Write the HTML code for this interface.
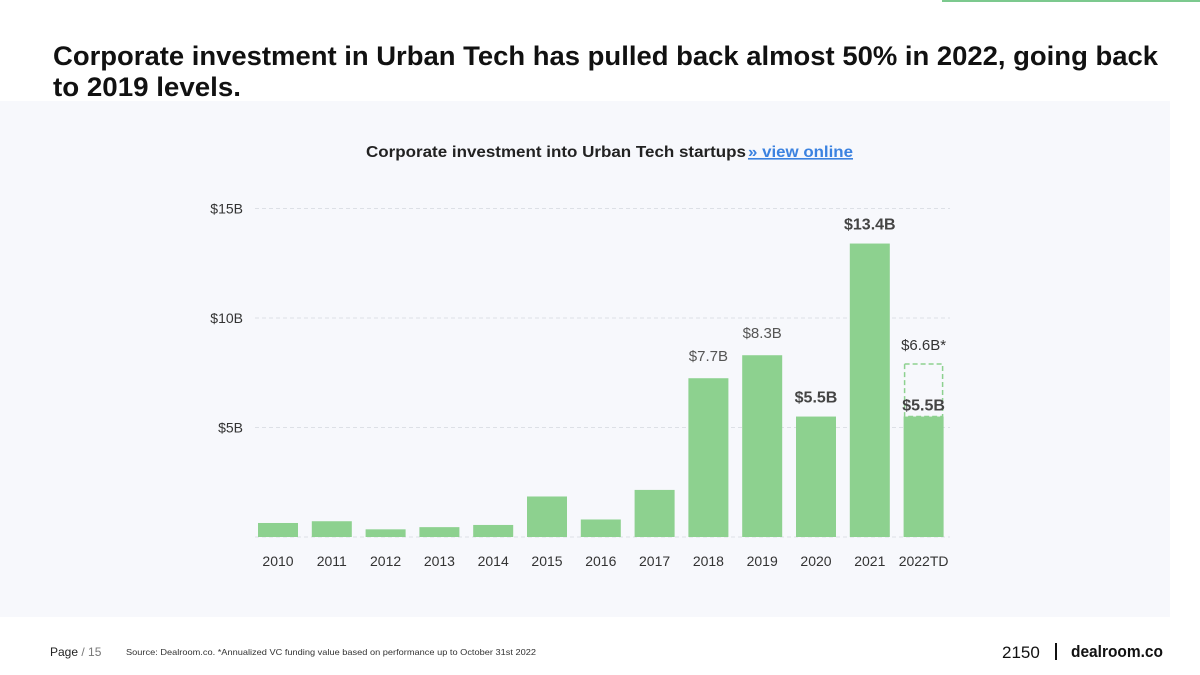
<!DOCTYPE html>
<html><head><meta charset="utf-8"><style>
html,body{margin:0;padding:0;background:#fff;width:1200px;height:675px;overflow:hidden;font-family:"Liberation Sans",sans-serif}
</style></head><body>
<svg id="chart" width="1200" height="675" viewBox="0 0 1200 675" xmlns="http://www.w3.org/2000/svg" font-family="Liberation Sans, sans-serif">
<rect x="942" y="0" width="258" height="2" fill="#7cc98e"/>
<rect x="0" y="101" width="1170" height="516" fill="#f7f8fc"/>
<text x="53" y="65" font-size="27" font-weight="bold" fill="#111" textLength="1105" lengthAdjust="spacingAndGlyphs">Corporate investment in Urban Tech has pulled back almost 50% in 2022, going back</text>
<text x="53" y="96" font-size="27" font-weight="bold" fill="#111" textLength="188" lengthAdjust="spacingAndGlyphs">to 2019 levels.</text>
<text x="366" y="157" font-size="16" font-weight="bold" fill="#222" textLength="380" lengthAdjust="spacingAndGlyphs">Corporate investment into Urban Tech startups</text>
<text x="748" y="157" font-size="16" font-weight="bold" fill="#3b82e0" text-decoration="underline" textLength="105" lengthAdjust="spacingAndGlyphs">» view online</text>
<g id="plot"></g>
<text x="50" y="656" font-size="12" fill="#222">Page <tspan fill="#777">/ 15</tspan></text>
<text x="126" y="655" font-size="8.5" fill="#333" textLength="410" lengthAdjust="spacingAndGlyphs">Source: Dealroom.co. *Annualized VC funding value based on performance up to October 31st 2022</text>
<text x="1002" y="658" font-size="17" fill="#111">2150</text>
<rect x="1055" y="643" width="2" height="17" fill="#111"/>
<text x="1071" y="657" font-size="17" font-weight="bold" fill="#111" textLength="92" lengthAdjust="spacingAndGlyphs">dealroom.co</text>
</svg>
<script>
const categories=["2010","2011","2012","2013","2014","2015","2016","2017","2018","2019","2020","2021","2022TD"];
const values=[0.64,0.72,0.35,0.45,0.55,1.85,0.8,2.15,7.25,8.3,5.5,13.4,5.5];
const annualized=[null,null,null,null,null,null,null,null,null,null,null,null,7.9];
const valueLabels=["","","","","","","","","$7.7B","$8.3B","$5.5B","$13.4B","$5.5B"];
const labelBold=[0,0,0,0,0,0,0,0,0,0,1,1,1];
const annualizedLabel="$6.6B*";
const yTicks=[5,10,15];
const yTickLabels=["$5B","$10B","$15B"];
const NS="http://www.w3.org/2000/svg";
const g=document.getElementById('plot');
const y0=537,pxPerB=21.9,x0=278,step=53.8,bw=40;
const Y=v=>y0-v*pxPerB, X=i=>x0+i*step;
function mk(t,a,txt){const e=document.createElementNS(NS,t);for(const k in a)e.setAttribute(k,a[k]);if(txt!=null)e.textContent=txt;g.appendChild(e);return e;}
yTicks.forEach((t,i)=>{
 const l=mk('line',{x1:255,x2:950,y1:Y(t),y2:Y(t),stroke:'#dde0e6','stroke-dasharray':'4,3'});
 
 
 const tx=mk('text',{x:243,y:Y(t)+5,'font-size':14,fill:'#333','text-anchor':'end'},yTickLabels[i]);
 
 
});
const base=mk('line',{x1:255,x2:950,y1:y0,y2:y0,stroke:'#dde0e6','stroke-dasharray':'4,3'});


categories.forEach((c,i)=>{
 const r=mk('rect',{x:X(i)-bw/2,y:Y(values[i]),width:bw,height:values[i]*pxPerB,fill:'#8dd18f'});
 
 
 if(annualized[i]!=null){
  const d=mk('rect',{x:X(i)-bw/2+1,y:Y(annualized[i]),width:bw-2,height:(annualized[i]-values[i])*pxPerB,fill:'none',stroke:'#8dd18f','stroke-width':1.5,'stroke-dasharray':'5,3'});
  
  
  const al=mk('text',{x:X(i),y:Y(annualized[i])-14,'font-size':15,fill:'#333','text-anchor':'middle'},annualizedLabel);
  
  
 }
 const xl=mk('text',{x:X(i),y:566,'font-size':14,fill:'#333','text-anchor':'middle'},c);
 
 
 if(valueLabels[i]){
  const off=labelBold[i]?(annualized[i]!=null?-6:-14):-17;
  const vy=annualized[i]!=null?Y(values[i])-6:Y(values[i])+off;
  const vl=mk('text',{x:X(i),y:vy,'font-size':labelBold[i]?16:15,'font-weight':labelBold[i]?'bold':'normal',fill:labelBold[i]?'#444':'#555','text-anchor':'middle'},valueLabels[i]);
  
  
 }
});
</script>
</body></html>
